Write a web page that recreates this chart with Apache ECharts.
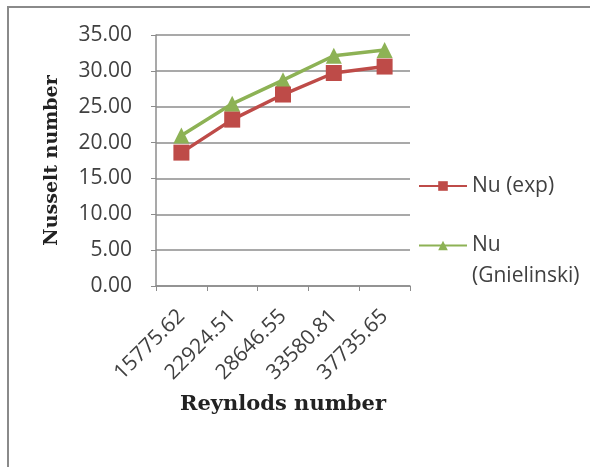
<!DOCTYPE html>
<html>
<head>
<meta charset="utf-8">
<script src="https://cdn.jsdelivr.net/npm/echarts@6/dist/echarts.min.js"></script>
<style>
html,body{margin:0;padding:0;background:#fff;}
#chart{width:590px;height:467px;}
</style>
</head>
<body>
<div id="chart"></div>
<script>
const categories = ['15775.62', '22924.51', '28646.55', '33580.81', '37735.65'];
const nuExp = [18.6, 23.2, 26.7, 29.7, 30.6];
const nuGnielinski = [21.0, 25.4, 28.7, 32.1, 32.9];
const seriesNames = ['Nu (exp)', 'Nu (Gnielinski)'];
const xTitle = 'Reynlods number';
const yTitle = 'Nusselt number';

const chart = echarts.init(document.getElementById('chart'), null, {renderer: 'canvas'});
const labelFont = 'Open Sans';
const legendBase = {
  orient: 'vertical',
  left: 413,
  itemWidth: 48,
  itemHeight: 12,
  itemGap: 0
};
chart.setOption({
  backgroundColor: '#ffffff',
  animation: false,
  graphic: [{
    type: 'rect',
    shape: {x: 8, y: 7, width: 620, height: 500},
    style: {fill: 'none', stroke: '#8a8a8a', lineWidth: 2},
    silent: true
  }],
  grid: {left: 156, right: 180, top: 35, bottom: 181, containLabel: false},
  legend: [
    Object.assign({}, legendBase, {
      top: 167,
      data: [seriesNames[0]],
      textStyle: {fontFamily: labelFont, fontSize: 21, color: '#404040', lineHeight: 28}
    }),
    Object.assign({}, legendBase, {
      top: 194,
      data: [seriesNames[1]],
      formatter: function (n) { return ' \nNu\n(Gnielinski)'; },
      textStyle: {fontFamily: labelFont, fontSize: 21, color: '#404040', lineHeight: 31}
    })
  ],
  xAxis: {
    type: 'category',
    data: categories,
    boundaryGap: true,
    name: xTitle,
    nameLocation: 'middle',
    nameGap: 108,
    nameTextStyle: {fontFamily: 'DejaVu Serif', fontWeight: 'bold', fontSize: 21, color: '#222'},
    axisLine: {lineStyle: {color: '#8c8c8c', width: 1.5}},
    axisTick: {show: true, alignWithLabel: false, length: 5, lineStyle: {color: '#8c8c8c'}},
    axisLabel: {rotate: 45, fontFamily: labelFont, fontSize: 21, color: '#404040', margin: 27, interval: 0}
  },
  yAxis: {
    type: 'value',
    min: 0,
    max: 35,
    interval: 5,
    name: yTitle,
    nameLocation: 'middle',
    nameGap: 94,
    nameRotate: 90,
    nameTextStyle: {fontFamily: 'DejaVu Serif', fontWeight: 'bold', fontSize: 19, color: '#222'},
    axisLine: {show: true, lineStyle: {color: '#8c8c8c', width: 1.5}},
    axisTick: {show: true, length: 5, lineStyle: {color: '#8c8c8c'}},
    splitLine: {lineStyle: {color: '#8c8c8c', width: 1.5}},
    axisLabel: {fontFamily: labelFont, fontSize: 21, color: '#404040', margin: 24,
      formatter: function (v) { return v.toFixed(2); }}
  },
  series: [
    {
      name: seriesNames[0],
      type: 'line',
      data: nuExp,
      symbol: 'rect',
      symbolSize: 16,
      lineStyle: {color: '#BE4B48', width: 3.5},
      itemStyle: {color: '#BE4B48'},
      z: 3
    },
    {
      name: seriesNames[1],
      type: 'line',
      data: nuGnielinski,
      symbol: 'triangle',
      symbolSize: 16,
      lineStyle: {color: '#8DB255', width: 3.5},
      itemStyle: {color: '#8DB255'},
      z: 2
    }
  ]
});
</script>
</body>
</html>
